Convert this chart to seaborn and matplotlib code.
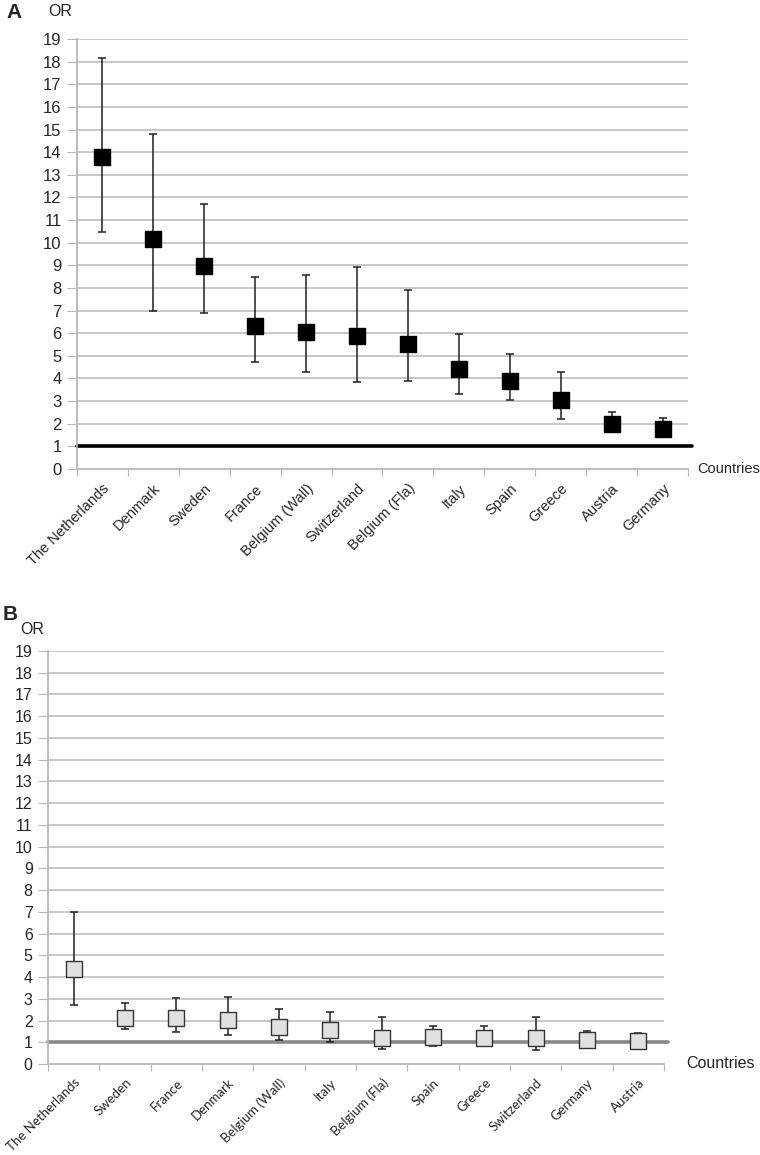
import numpy as np
import pandas as pd
import matplotlib
matplotlib.use("Agg")
import matplotlib.pyplot as plt
import seaborn as sns

# panel A
countries_a = ["The Netherlands", "Denmark", "Sweden", "France", "Belgium (Wall)", "Switzerland",
               "Belgium (Fla)", "Italy", "Spain", "Greece", "Austria", "Germany"]
or_a = [13.8, 10.15, 8.97, 6.33, 6.05, 5.86, 5.52, 4.44, 3.88, 3.05, 2.0, 1.75]
lo_a = [10.45, 6.96, 6.89, 4.72, 4.3, 3.85, 3.88, 3.33, 3.03, 2.22, 1.63, 1.45]
hi_a = [18.15, 14.8, 11.7, 8.5, 8.55, 8.93, 7.9, 5.96, 5.08, 4.27, 2.52, 2.26]

# panel B
countries_b = ["The Netherlands", "Sweden", "France", "Denmark", "Belgium (Wall)", "Italy",
               "Belgium (Fla)", "Spain", "Greece", "Switzerland", "Germany", "Austria"]
or_b = [4.36, 2.12, 2.1, 2.03, 1.69, 1.55, 1.21, 1.22, 1.2, 1.2, 1.12, 1.04]
lo_b = [2.72, 1.6, 1.47, 1.34, 1.12, 1.0, 0.7, 0.85, 0.82, 0.65, 0.82, 0.75]
hi_b = [6.98, 2.81, 3.04, 3.07, 2.55, 2.41, 2.14, 1.76, 1.76, 2.15, 1.53, 1.43]

yticks = list(range(0, 20))

sns.set_style("white")
plt.rcParams['font.family'] = ['Liberation Sans', 'DejaVu Sans']

W, H = 760, 1155
fig = plt.figure(figsize=(W / 100, H / 100), dpi=100)


def px_axes(l, t, r, b):
    return fig.add_axes([l / W, 1 - b / H, (r - l) / W, (b - t) / H])


def draw_panel(ax, countries, vals, lo, hi, face, edge, refcolor, label_font, label_size, ysize):
    df = pd.DataFrame({"country": countries, "OR": vals})
    n = len(countries)
    x = np.arange(n)
    ax.set_xlim(-0.5, n - 0.5)
    ax.set_ylim(0, 19)
    for v in yticks[1:]:
        ax.axhline(v, color="#c4c4c4", lw=1.3, zorder=0)
    ax.plot([-0.5, n - 0.43], [1, 1], color=refcolor, lw=2.6, zorder=1, clip_on=False)
    err = [np.array(vals) - np.array(lo), np.array(hi) - np.array(vals)]
    ax.errorbar(x, vals, yerr=err, fmt="none", ecolor="#202020", elinewidth=1.1,
                capsize=3, capthick=1.1, zorder=2)
    sns.scatterplot(data=df, x="country", y="OR", marker="s", s=140, color=face,
                    edgecolor=edge, linewidth=1.0, zorder=3, ax=ax, legend=False)
    ax.set_xlim(-0.5, n - 0.5)
    ax.set_xlabel("")
    ax.set_ylabel("")
    ax.set_yticks(yticks)
    ax.set_yticklabels([str(v) for v in yticks], fontsize=ysize)
    ax.set_xticks(np.arange(-0.5, n, 1.0))
    ax.set_xticklabels([])
    ax.set_xticks(x, minor=True)
    ax.set_xticklabels(countries, minor=True, rotation=45, ha="right",
                       rotation_mode="anchor", fontsize=label_size, family=label_font)
    ax.tick_params(axis="x", which="major", length=5, color="#b8b8b8", direction="out", bottom=True)
    ax.tick_params(axis="x", which="minor", length=0, pad=9)
    ax.tick_params(axis="y", length=7, color="#b8b8b8", direction="out", left=True, pad=4)
    for s in ["top", "right"]:
        ax.spines[s].set_visible(False)
    for s in ["left", "bottom"]:
        ax.spines[s].set_color("#b8b8b8")
        ax.spines[s].set_linewidth(1.3)


ax_a = px_axes(77, 39, 688, 469)
draw_panel(ax_a, countries_a, or_a, lo_a, hi_a, "black", "black", "black",
           ['Liberation Sans', 'DejaVu Sans'], 10.5, 12)
ax_b = px_axes(48, 651, 664, 1064)
draw_panel(ax_b, countries_b, or_b, lo_b, hi_b, "#e0e0e0", "#333333", "#888888",
           ['Lato', 'DejaVu Sans'], 9.5, 11.5)

fig.text(6 / W, 1 - 12 / H, "A", fontsize=15, fontweight="bold", va="center")
fig.text(48 / W, 1 - 12 / H, "OR", fontsize=11.5, va="center")
fig.text(697 / W, 1 - 469 / H, "Countries", fontsize=10.5, va="center")
fig.text(3 / W, 1 - 614 / H, "B", fontsize=15, fontweight="bold", va="center")
fig.text(20 / W, 1 - 630 / H, "OR", fontsize=11.5, va="center")
fig.text(686 / W, 1 - 1064 / H, "Countries", fontsize=11.5, va="center")

fig.savefig("out.png", dpi=100)
